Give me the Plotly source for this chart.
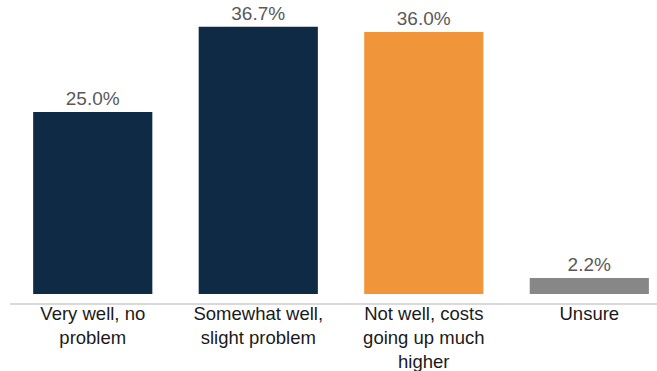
import plotly.graph_objects as go

categories = ["Very well, no<br>problem", "Somewhat well,<br>slight problem",
              "Not well, costs<br>going up much<br>higher", "Unsure"]
values = [25.0, 36.7, 36.0, 2.2]
colors = ["#0e2a45", "#0e2a45", "#f0953a", "#878787"]

fig = go.Figure(go.Bar(
    x=list(range(len(categories))),
    y=values,
    marker=dict(color=colors, line=dict(width=0)),
    width=0.72,
    text=[f"{v:.1f}%" for v in values],
    textposition="outside",
    constraintext="none",
    textfont=dict(family="Liberation Sans, Arial", size=19, color="#595959"),
    cliponaxis=False,
))

fig.update_layout(
    width=657, height=371,
    margin=dict(l=10, r=0, t=0, b=68, autoexpand=False),
    plot_bgcolor="white", paper_bgcolor="white",
    showlegend=False,
    xaxis=dict(
        range=[-0.5, 3.409],
        tickmode="array",
        tickvals=list(range(len(categories))),
        ticktext=categories,
        tickfont=dict(family="Liberation Sans, Arial", size=18.5, color="#1a1a1a"),
        ticklabelstandoff=-7,
        automargin=False,
        showline=True, linecolor="#d9d9d9", linewidth=2,
        showgrid=False, zeroline=False, ticks="",
    ),
    yaxis=dict(range=[-1.236, 40.38], visible=False, showgrid=False, zeroline=False),
)

fig.write_html("out.html")
